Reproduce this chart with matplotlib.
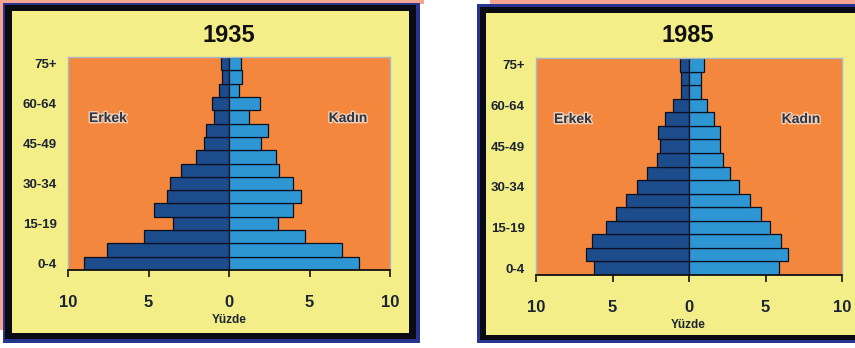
import matplotlib
matplotlib.use("Agg")
import matplotlib.pyplot as plt
from matplotlib.patches import Rectangle
import matplotlib.patheffects as pe
import numpy as np

# Age groups, youngest at the bottom
age_groups = ["0-4", "5-9", "10-14", "15-19", "20-24", "25-29", "30-34", "35-39",
              "40-44", "45-49", "50-54", "55-59", "60-64", "65-69", "70-74", "75+"]
shown_ages = ["0-4", "15-19", "30-34", "45-49", "60-64", "75+"]

# Percent of population, 1935
male_1935 = [9.0, 7.55, 5.3, 3.45, 4.65, 3.85, 3.65, 3.0,
             2.05, 1.55, 1.4, 0.95, 1.05, 0.6, 0.45, 0.5]
female_1935 = [8.1, 7.0, 4.7, 3.05, 3.95, 4.5, 4.0, 3.1,
               2.95, 2.0, 2.4, 1.25, 1.9, 0.6, 0.8, 0.75]

# Percent of population, 1985
male_1985 = [6.2, 6.75, 6.35, 5.4, 4.8, 4.1, 3.4, 2.75,
             2.1, 1.9, 2.0, 1.55, 1.05, 0.55, 0.5, 0.6]
female_1985 = [5.85, 6.45, 6.0, 5.3, 4.7, 4.0, 3.25, 2.7,
               2.2, 2.05, 2.0, 1.65, 1.2, 0.8, 0.8, 0.95]

xticks = [-10, -5, 0, 5, 10]
xtick_labels = ["10", "5", "0", "5", "10"]

W, H = 855, 348
MALE = "#1d4c8c"
FEMALE = "#2f96d4"
ORANGE = "#f3873e"
YELLOW = "#f4ee88"
NAVY = "#27358f"
PINK = "#f4a58f"
TXT = "#1c2434"

fig = plt.figure(figsize=(W / 100, H / 100), dpi=100)
fig.patch.set_facecolor("white")


def px_rect(x0, y0, x1, y1, color, z):
    fig.patches.append(Rectangle((x0 / W, 1 - y1 / H), (x1 - x0) / W, (y1 - y0) / H,
                                 transform=fig.transFigure, facecolor=color,
                                 edgecolor="none", zorder=z))


def px_axes(x0, y0, x1, y1):
    return fig.add_axes([x0 / W, 1 - y1 / H, (x1 - x0) / W, (y1 - y0) / H])


# Frames: pink glow, navy rim, black border, yellow card
px_rect(0, 0, 424, 4, PINK, 0)
px_rect(0, 0, 4, 330, PINK, 0)
px_rect(3, 3, 420, 343, NAVY, 1)
px_rect(5, 5, 416, 339, "#0a0a12", 2)
px_rect(12, 11, 409, 333, YELLOW, 3)

px_rect(490, 0, 855, 5, PINK, 0)
px_rect(477, 4, 860, 343, NAVY, 1)
px_rect(480, 7, 860, 340, "#0a0a12", 2)
px_rect(486, 13, 860, 335, YELLOW, 3)

font = ["Liberation Sans Narrow", "Liberation Sans", "DejaVu Sans"]
halo = [pe.withStroke(linewidth=2.0, foreground="#f6efe4", alpha=0.7)]


def pyramid(box, male, female, title, title_xy, erkek_xy, kadin_xy, yuzde_xy):
    ax = px_axes(*box)
    ax.set_zorder(5)
    ax.set_facecolor(ORANGE)
    y = np.arange(len(age_groups))
    ax.barh(y, -np.array(male), height=1.0, color=MALE, edgecolor="#0b1020", linewidth=0.9)
    ax.barh(y, female, height=1.0, color=FEMALE, edgecolor="#0b1020", linewidth=0.9)
    ax.set_xlim(-10, 10)
    ax.set_ylim(-0.5, len(age_groups) - 0.5)
    ax.set_xticks(xticks)
    ax.set_xticklabels(xtick_labels, family=font, fontsize=12, fontweight="bold", color=TXT)
    ax.set_yticks([age_groups.index(a) for a in shown_ages])
    ax.set_yticklabels(shown_ages, family=font, fontsize=9.5, fontweight="bold", color=TXT)
    ax.tick_params(axis="x", direction="out", length=5, width=1.2, color="#111111", pad=13)
    ax.tick_params(axis="y", length=0, pad=8)
    for side in ("left", "top", "right"):
        ax.spines[side].set_color("#a9b8c4")
        ax.spines[side].set_linewidth(1.0)
    ax.spines["bottom"].set_color("#111111")
    ax.spines["bottom"].set_linewidth(1.3)

    fig.text(title_xy[0] / W, 1 - title_xy[1] / H, title, ha="center", va="center",
             family=font, fontsize=17, fontweight="bold", color="#111111", zorder=6)
    fig.text(erkek_xy[0] / W, 1 - erkek_xy[1] / H, "Erkek", ha="center", va="center",
             family=font, fontsize=10, fontweight="bold", color="#2a3548",
             path_effects=halo, zorder=7)
    fig.text(kadin_xy[0] / W, 1 - kadin_xy[1] / H, "Kadın", ha="center", va="center",
             family=font, fontsize=10, fontweight="bold", color="#2a3548",
             path_effects=halo, zorder=7)
    fig.text(yuzde_xy[0] / W, 1 - yuzde_xy[1] / H, "Yüzde", ha="center", va="center",
             family=font, fontsize=8.5, fontweight="bold", color=TXT, zorder=6)
    return ax


pyramid((68, 57, 390, 270), male_1935, female_1935, "1935",
        (229, 35), (108, 118), (348, 118), (229, 320))
pyramid((536, 58, 842, 275), male_1985, female_1985, "1985",
        (688, 36), (573, 119), (801, 119), (688, 325))

fig.savefig("out.png", dpi=100, facecolor=fig.get_facecolor())
